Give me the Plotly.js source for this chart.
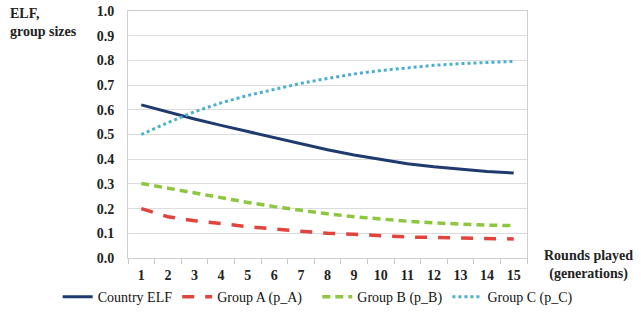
<!DOCTYPE html>
<html>
<head>
<meta charset="utf-8">
<script src="https://cdn.plot.ly/plotly-3.0.1.min.js"></script>
<style>html,body{margin:0;padding:0;background:#fff;}#chart{width:641px;height:320px;}</style>
</head>
<body>
<div id="chart"></div>
<script>
const rounds = ['1','2','3','4','5','6','7','8','9','10','11','12','13','14','15'];
const countryELF = [0.62,0.59,0.563,0.537,0.512,0.487,0.462,0.438,0.417,0.398,0.382,0.369,0.358,0.35,0.344];
const groupA = [0.20,0.167,0.151,0.138,0.127,0.117,0.109,0.10,0.096,0.09,0.085,0.083,0.081,0.079,0.077];
const groupB = [0.302,0.282,0.262,0.243,0.225,0.208,0.193,0.179,0.167,0.157,0.149,0.142,0.137,0.133,0.131];
const groupC = [0.50,0.548,0.592,0.628,0.658,0.684,0.707,0.727,0.745,0.759,0.771,0.78,0.787,0.792,0.796];
const seriesNames = ['Country ELF','Group A (p_A)','Group B (p_B)','Group C (p_C)'];

const serif = "Liberation Serif, Times New Roman, Times, DejaVu Serif, Noto Serif, serif";
const traces = [
  {x: rounds, y: countryELF, name: seriesNames[0], mode: 'lines', legend: 'legend', line: {color: '#1f3a6e', width: 3}},
  {x: rounds, y: groupA, name: seriesNames[1], mode: 'lines', legend: 'legend', line: {color: '#e0443c', width: 3.5, dash: '12px,11px'}},
  {x: rounds, y: groupB, name: seriesNames[2], mode: 'lines', legend: 'legend2', line: {color: '#8dc63f', width: 3.5, dash: '8px,5px'}},
  {x: rounds, y: groupC, name: seriesNames[3], mode: 'lines', legend: 'legend2', line: {color: '#4bafd0', width: 3, dash: '3px,3px'}}
];

const legendBase = {orientation: 'h', xref: 'container', xanchor: 'left', y: -0.158, yanchor: 'middle',
  bgcolor: 'rgba(0,0,0,0)', font: {family: serif, size: 14, color: '#111'},
  itemwidth: 30, tracegroupgap: 0};

const layout = {
  width: 641, height: 320,
  margin: {l: 128, r: 114, t: 11, b: 62, autoexpand: false},
  paper_bgcolor: '#fff', plot_bgcolor: '#fff',
  showlegend: true,
  legend: Object.assign({}, legendBase, {x: 0.09}),
  legend2: Object.assign({}, legendBase, {x: 0.495}),
  xaxis: {type: 'category', range: [-0.5, 14.5], tickson: 'boundaries', ticks: 'outside', ticklen: 5, tickcolor: '#c8c8c8',
          showline: true, linecolor: '#cfcfcf', linewidth: 1, mirror: true, showgrid: false, zeroline: false,
          automargin: false, ticklabelstandoff: 4, tickfont: {family: serif, size: 14, color: '#222', weight: 'bold'}},
  yaxis: {range: [0, 1], dtick: 0.1, tickformat: '.1f', ticks: '', showline: true, linecolor: '#cfcfcf',
          mirror: true, gridcolor: '#dcdcdc', gridwidth: 1, zeroline: false, ticklabelstandoff: 10, automargin: false,
          tickfont: {family: serif, size: 14, color: '#222', weight: 'bold'}},
  annotations: [
    {text: '<b>ELF,<br>group sizes</b>', xref: 'paper', yref: 'paper', x: -0.30, y: 1.03,
     xanchor: 'left', yanchor: 'top', align: 'left', showarrow: false,
     font: {family: serif, size: 14, color: '#222'}},
    {text: '<b>Rounds played<br>(generations)</b>', xref: 'paper', yref: 'paper', x: 1.155, y: -0.03,
     xanchor: 'center', yanchor: 'middle', align: 'center', showarrow: false,
     font: {family: serif, size: 14, color: '#222'}}
  ]
};

Plotly.newPlot('chart', traces, layout, {displayModeBar: false, staticPlot: true});
</script>
</body>
</html>
